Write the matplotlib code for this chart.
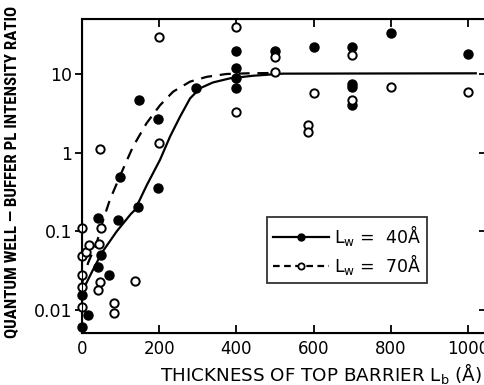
import numpy as np
from matplotlib import pyplot as plt
from matplotlib.lines import Line2D

# data (x in Angstrom, y = intensity ratio)
x_40 = [0, 0, 15, 41, 41, 49, 71, 92, 98, 145, 148, 197, 197, 295,
        400, 400, 400, 400, 500, 600, 700, 700, 700, 700, 800, 1000]
y_40 = [0.0061, 0.0155, 0.0086, 0.146, 0.0355, 0.050, 0.0279, 0.139, 0.49, 0.204, 4.67, 2.68, 0.36, 6.6,
        19.6, 11.8, 8.8, 6.6, 19.5, 21.8, 22.2, 7.4, 6.8, 4.04, 32.9, 17.8]

x_70 = [0, 0, 0, 0, 0, 10, 19, 45, 47, 49, 41, 84, 84, 136, 47, 199, 200,
        400, 400, 500, 500, 586, 586, 600, 700, 700, 800, 1000]
y_70 = [0.109, 0.048, 0.0279, 0.0198, 0.011, 0.055, 0.067, 0.070, 0.0229, 0.109, 0.0179, 0.0122, 0.0091, 0.0236, 1.11, 1.33, 29.5,
        40, 3.3, 16.5, 10.7, 2.25, 1.85, 5.8, 17.4, 4.67, 6.8, 5.96]

# fitted curves as drawn in the figure
cx_40 = [0, 25, 52, 90, 126, 137, 168, 202, 228, 254, 280, 306, 339, 383, 443, 520, 1020]
cy_40 = [0.017, 0.03, 0.054, 0.10, 0.165, 0.187, 0.388, 0.81, 1.6, 2.87, 4.9, 6.6, 7.8, 8.8, 9.5, 10.1, 10.2]

cx_70 = [0, 16, 38, 55, 72, 98, 132, 167, 202, 236, 280, 323, 374, 430, 500]
cy_70 = [0.022, 0.04, 0.071, 0.14, 0.25, 0.5, 1.19, 2.36, 4.0, 5.96, 8.0, 9.2, 10.0, 10.2, 10.3]

yticks = [0.01, 0.1, 1, 10]
ytick_labels = ['0.01', '0.1', '1', '10']
xticks = [0, 200, 400, 600, 800, 1000]

plt.rcParams['font.family'] = 'DejaVu Sans'
fig = plt.figure(figsize=(4.85, 3.85), dpi=100)
ax = fig.add_axes([82/485, 1-333/385, (487-82)/485, (333-19)/385])

ax.plot(cx_40, cy_40, '-', color='black', lw=1.6, zorder=2)
ax.plot(cx_70, cy_70, '--', color='black', lw=1.6, dashes=(5, 3.5), zorder=2)
ax.plot(x_40, y_40, 'o', color='black', ms=6.5, zorder=3, clip_on=False)
ax.plot(x_70, y_70, 'o', mfc='white', mec='black', mew=1.4, ms=6, zorder=4, clip_on=False)

ax.set_yscale('log')
ax.set_xlim(0, 1049)
ax.set_ylim(0.0051, 50)
ax.set_yticks(yticks)
ax.set_yticklabels(ytick_labels)
ax.minorticks_off()
ax.set_xticks(xticks)

for s in ax.spines.values():
    s.set_linewidth(1.5)
ax.tick_params(axis='x', direction='in', length=6, width=1.3, top=True, labelsize=12, pad=5)
ax.tick_params(axis='y', which='major', direction='out', length=5, width=1.3, labelsize=12.5, pad=2)

# right-hand ticks point inwards
ax2 = ax.twinx()
ax2.set_yscale('log')
ax2.set_ylim(ax.get_ylim())
ax2.set_yticks(yticks)
ax2.minorticks_off()
ax2.tick_params(axis='y', direction='in', length=6, width=1.3, labelright=False)

ax.text(0.59, -0.088, 'THICKNESS OF TOP BARRIER L$_\\mathregular{b}$ (Å)', transform=ax.transAxes,
        ha='center', va='top', fontsize=13.2)
fig.text(13/485, 1-172/385, 'QUANTUM WELL — BUFFER PL INTENSITY RATIO', rotation=90,
         ha='center', va='center', fontsize=12.2, fontweight='bold',
         family=['Roboto Condensed', 'Liberation Sans Narrow', 'Liberation Sans'])

handles = [Line2D([], [], color='black', lw=1.6, marker='o', ms=5),
           Line2D([], [], color='black', lw=1.6, ls='--', dashes=(3, 2), marker='o', ms=4.5, mfc='white', mew=1.3)]
leg = ax.legend(handles, ['L$_\\mathregular{w}$ =  40Å', 'L$_\\mathregular{w}$ =  70Å'],
                loc='upper left', bbox_to_anchor=((267-82)/405, 1-(217-19)/314),
                fontsize=12.5, frameon=True, fancybox=False, edgecolor='black',
                handlelength=3.2, handletextpad=0.3, borderpad=0.35, labelspacing=0.25, borderaxespad=0)
leg.get_frame().set_linewidth(1.3)

fig.savefig('out.png', dpi=100)
